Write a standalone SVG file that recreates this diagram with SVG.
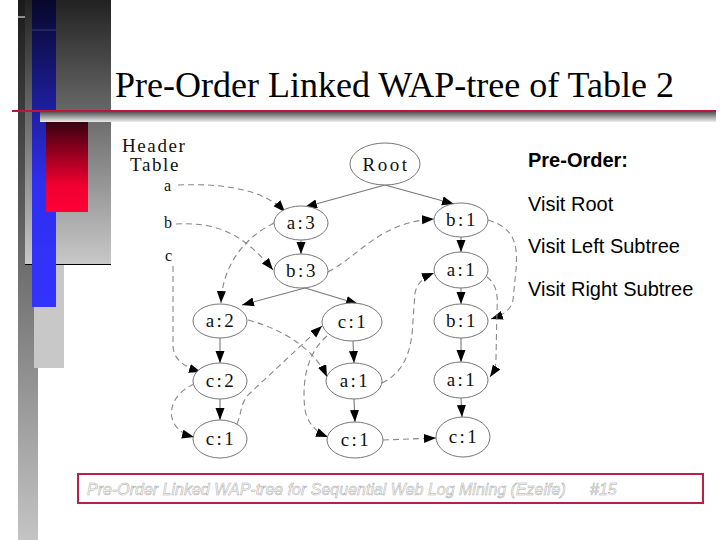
<svg xmlns="http://www.w3.org/2000/svg" width="720" height="540" viewBox="0 0 720 540">
<style>
.node ellipse{fill:#fff;stroke:#777;stroke-width:1}
.node text{font-family:"Liberation Serif",serif;font-size:19px;fill:#111;text-anchor:middle;letter-spacing:2.5px}
.solid{fill:none;stroke:#777;stroke-width:1.1;marker-end:url(#ah)}
.dash{fill:none;stroke:#888;stroke-width:1.1;stroke-dasharray:6,4;marker-end:url(#ah)}
.hdr{font-family:"Liberation Serif",serif;font-size:19px;fill:#111;letter-spacing:1.6px}
.lbl{font-family:"Liberation Serif",serif;font-size:16px;fill:#111}
.side{font-family:"Liberation Sans",Arial,sans-serif;font-size:20px;fill:#000}
.foot{font-family:"Liberation Sans",Arial,sans-serif;font-size:16px;font-style:italic;fill:#fff;stroke:#a8a8a8;stroke-width:0.5}
</style>
<defs>
<marker id="ah" markerUnits="userSpaceOnUse" markerWidth="13" markerHeight="10" refX="12" refY="4.5" orient="auto">
<path d="M0,0 L12,4.5 L0,9 z" fill="#000"/>
</marker>
<linearGradient id="gStrip" x1="0" y1="0" x2="0" y2="1">
<stop offset="0" stop-color="#1a1a1a"/><stop offset="1" stop-color="#c4c4c4"/>
</linearGradient>
<linearGradient id="gBox" x1="0" y1="0" x2="0" y2="1">
<stop offset="0" stop-color="#222"/><stop offset="1" stop-color="#c8c8c8"/>
</linearGradient>
<linearGradient id="gBlue" x1="0" y1="0" x2="0" y2="1">
<stop offset="0" stop-color="#07072a"/><stop offset="0.6" stop-color="#2f2fee"/><stop offset="1" stop-color="#3333ff"/>
</linearGradient>
<linearGradient id="gRed" x1="0" y1="0" x2="0" y2="1">
<stop offset="0" stop-color="#3a0010"/><stop offset="0.7" stop-color="#f00030"/><stop offset="1" stop-color="#ff0036"/>
</linearGradient>
<linearGradient id="gBar" x1="0" y1="0" x2="0" y2="1">
<stop offset="0" stop-color="#555"/><stop offset="1" stop-color="#eee"/>
</linearGradient>
</defs>
<rect width="720" height="540" fill="#fff"/>
<g id="decor">
<rect x="18" y="0" width="20" height="540" fill="url(#gStrip)"/>
<rect x="25" y="0" width="86" height="264" fill="url(#gBox)"/>
<line x1="25" y1="264.5" x2="111" y2="264.5" stroke="#000" stroke-width="1"/>
<rect x="34" y="265" width="30" height="103" fill="#c8c8c8"/>
<rect x="32" y="0" width="24" height="307" fill="url(#gBlue)"/>
<line x1="32" y1="30" x2="56" y2="30" stroke="#3a3a70" stroke-width="1"/>
<line x1="18" y1="17" x2="25" y2="17" stroke="#fff" stroke-width="1"/>
<rect x="40" y="112" width="676" height="10" fill="url(#gBar)"/>
<line x1="12" y1="111" x2="716" y2="111" stroke="#c0143c" stroke-width="2"/>
<rect x="46" y="122" width="42" height="90" fill="url(#gRed)"/>
</g>
<text x="115" y="97" font-family="'Liberation Serif',serif" font-size="36" fill="#000">Pre-Order Linked WAP-tree of Table 2</text>
<g id="header-table">
<text class="hdr" x="122" y="152">Header</text>
<text class="hdr" x="130" y="171">Table</text>
<text class="lbl" x="164" y="191">a</text>
<text class="lbl" x="164" y="228">b</text>
<text class="lbl" x="165" y="261">c</text>
</g>
<g id="connectors">
<path class="solid" d="M385,185 L305,207"/>
<path class="solid" d="M385,185 L454,204"/>
<path class="solid" d="M301,240 L301,254"/>
<path class="solid" d="M305,288 L242,305"/>
<path class="solid" d="M305,288 L358,304"/>
<path class="solid" d="M220,338 L220,363"/>
<path class="solid" d="M220,399 L220,420"/>
<path class="solid" d="M353,341 L354,363"/>
<path class="solid" d="M354,399 L355,422"/>
<path class="solid" d="M461,237 L461,252"/>
<path class="solid" d="M461,288 L461,304"/>
<path class="solid" d="M461,338 L461,362"/>
<path class="solid" d="M461,398 L462,417"/>
<path class="dash" d="M178,185 C225,183 265,190 285,212"/>
<path class="dash" d="M176,224 C215,222 242,232 273,270"/>
<path class="dash" d="M173,266 L173,345 C173,360 185,367 201,372"/>
<path class="dash" d="M274,223 C240,240 222,270 221,303"/>
<path class="dash" d="M328,272 C360,255 380,222 434,219"/>
<path class="dash" d="M488,220 C515,228 518,245 516,270 L513,300 C511,310 503,315 491,319"/>
<path class="dash" d="M487,277 C497,285 498,295 497,310 L496,358 C496,366 494,371 490,377"/>
<path class="dash" d="M248,320 C285,330 315,350 327,377"/>
<path class="dash" d="M194,384 C170,395 168,415 175,425 C180,432 186,435 194,437"/>
<path class="dash" d="M237,424 C242,412 240,405 248,395 L322,326"/>
<path class="dash" d="M327,336 C305,355 302,385 305,410 C308,425 318,433 328,437"/>
<path class="dash" d="M382,383 C405,372 412,350 413,320 L415,293 C417,283 424,277 434,273"/>
<path class="dash" d="M383,440 L436,438"/>
</g>
<g id="n-root" class="node"><ellipse cx="385" cy="164" rx="35" ry="21"/><text x="386" y="171">Root</text></g>
<g id="n-a3" class="node"><ellipse cx="301" cy="223" rx="27" ry="17"/><text x="302" y="229">a:3</text></g>
<g id="n-b1-top" class="node"><ellipse cx="461" cy="220" rx="27" ry="17"/><text x="462" y="226">b:1</text></g>
<g id="n-b3" class="node"><ellipse cx="301" cy="271" rx="27" ry="17"/><text x="302" y="277">b:3</text></g>
<g id="n-a1-right" class="node"><ellipse cx="461" cy="270" rx="27" ry="18"/><text x="462" y="276">a:1</text></g>
<g id="n-a2" class="node"><ellipse cx="220" cy="321" rx="27" ry="17"/><text x="221" y="327">a:2</text></g>
<g id="n-c1-mid" class="node"><ellipse cx="352" cy="322" rx="30" ry="19"/><text x="353" y="328">c:1</text></g>
<g id="n-b1-right" class="node"><ellipse cx="461" cy="321" rx="27" ry="17"/><text x="462" y="327">b:1</text></g>
<g id="n-c2" class="node"><ellipse cx="220" cy="381" rx="27" ry="18"/><text x="221" y="387">c:2</text></g>
<g id="n-a1-mid" class="node"><ellipse cx="354" cy="381" rx="28" ry="18"/><text x="355" y="387">a:1</text></g>
<g id="n-a1-right3" class="node"><ellipse cx="461" cy="380" rx="27" ry="18"/><text x="462" y="386">a:1</text></g>
<g id="n-c1-left" class="node"><ellipse cx="220" cy="439" rx="27" ry="19"/><text x="221" y="445">c:1</text></g>
<g id="n-c1-bmid" class="node"><ellipse cx="355" cy="440" rx="28" ry="18"/><text x="356" y="446">c:1</text></g>
<g id="n-c1-bright" class="node"><ellipse cx="463" cy="437" rx="27" ry="20"/><text x="464" y="443">c:1</text></g>
<g id="side-notes">
<text class="side" x="528" y="167" font-weight="bold">Pre-Order:</text>
<text class="side" x="528" y="211">Visit Root</text>
<text class="side" x="528" y="253">Visit Left Subtree</text>
<text class="side" x="528" y="296">Visit Right Subtree</text>
</g>
<g id="footer">
<rect x="78" y="474" width="625" height="29" fill="#fff" stroke="#b8204a" stroke-width="2"/>
<text class="foot" x="87" y="495">Pre-Order Linked WAP-tree for Sequential Web Log Mining (Ezeife)</text>
<text class="foot" x="590" y="495">#15</text>
</g>
</svg>
